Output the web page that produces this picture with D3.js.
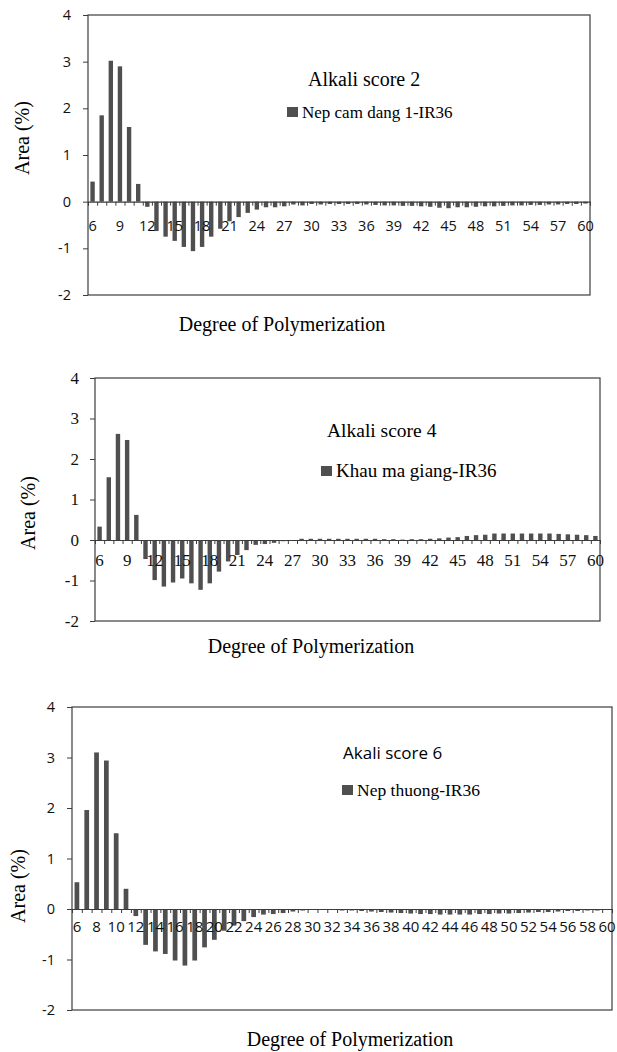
<!DOCTYPE html>
<meta charset="utf-8">
<title>Degree of Polymerization - area difference</title>
<style type="text/css">
  body { margin: 0; background: #fff; }
</style>
<body>
<script src="https://d3js.org/d3.v7.min.js"></script>
<div id="fig"></div>
<script>
// degree of polymerization (x categories)
var dp = [6, 7, 8, 9, 10, 11, 12, 13, 14, 15, 16, 17, 18, 19, 20, 21, 22, 23, 24, 25,
          26, 27, 28, 29, 30, 31, 32, 33, 34, 35, 36, 37, 38, 39, 40, 41, 42, 43, 44, 45,
          46, 47, 48, 49, 50, 51, 52, 53, 54, 55, 56, 57, 58, 59, 60];

// tick labels shown on the x axis
var ticksEvery3 = [6, 9, 12, 15, 18, 21, 24, 27, 30, 33, 36, 39, 42, 45, 48, 51, 54, 57, 60];
var ticksEvery2 = [6, 8, 10, 12, 14, 16, 18, 20, 22, 24, 26, 28, 30, 32, 34, 36, 38, 40, 42, 44,
                   46, 48, 50, 52, 54, 56, 58, 60];
var yTicks = [-2, -1, 0, 1, 2, 3, 4];

// Alkali score 2 : Nep cam dang 1 - IR36
var nepCamDang = [0.43, 1.85, 3.02, 2.9, 1.6, 0.38, -0.11, -0.63, -0.75, -0.84,
                  -0.97, -1.06, -0.97, -0.75, -0.58, -0.42, -0.33, -0.24, -0.17, -0.12,
                  -0.12, -0.1, -0.06, -0.08, -0.05, -0.06, -0.05, -0.05, -0.05, -0.05,
                  -0.06, -0.07, -0.08, -0.08, -0.09, -0.09, -0.1, -0.11, -0.13, -0.14,
                  -0.12, -0.12, -0.11, -0.1, -0.1, -0.09, -0.08, -0.08, -0.07, -0.07,
                  -0.06, -0.06, -0.05, -0.05, -0.04];

// Alkali score 4 : Khau ma giang - IR36
var khauMaGiang = [0.33, 1.55, 2.62, 2.47, 0.62, -0.47, -0.99, -1.15, -1.05, -0.95,
                   -1.07, -1.23, -1.07, -0.78, -0.53, -0.37, -0.25, -0.12, -0.1, -0.07,
                   -0.03, -0.02, 0.03, 0.03, 0.03, 0.03, 0.03, 0.03, 0.03, 0.03,
                   0.03, 0.02, 0.02, 0.01, 0.02, 0.02, 0.03, 0.04, 0.06, 0.07,
                   0.1, 0.12, 0.13, 0.16, 0.16, 0.16, 0.16, 0.16, 0.16, 0.16,
                   0.15, 0.14, 0.13, 0.12, 0.1];

// Akali score 6 : Nep thuong - IR36
var nepThuong = [0.53, 1.96, 3.1, 2.94, 1.5, 0.4, -0.14, -0.71, -0.84, -0.89,
                 -1.02, -1.12, -1.02, -0.76, -0.61, -0.43, -0.33, -0.24, -0.16, -0.11,
                 -0.1, -0.08, -0.05, -0.03, -0.02, -0.02, -0.02, -0.03, -0.03, -0.04,
                 -0.05, -0.06, -0.07, -0.08, -0.09, -0.1, -0.1, -0.11, -0.11, -0.11,
                 -0.11, -0.1, -0.1, -0.09, -0.09, -0.08, -0.07, -0.06, -0.06, -0.05,
                 -0.04, -0.04, -0.03, -0.03, -0.02];

var barColor = "#4f4f4f";
var lineColor = "#3c3c3c";
var SERIF = '"Liberation Serif", "Times New Roman", serif';
var SANS = '"Open Sans", "DejaVu Sans", sans-serif';

var svg = d3.select("#fig")
  .append("svg")
    .attr("width", 617)
    .attr("height", 1052);

// one panel = one bar chart
function drawPanel(p) {
  var g = svg.append("g")
    .attr("transform", "translate(" + p.left + "," + p.top + ")");
  var width = p.right - p.left,
      height = p.bottom - p.top;

  var x = d3.scaleBand()
    .domain(dp)
    .range([0, width])
    .paddingInner(0.52)
    .paddingOuter(0.26);
  // category boundaries for the tick marks
  var xb = d3.scaleLinear()
    .domain([5.5, 60.5])
    .range([0, width]);
  var y = d3.scaleLinear()
    .domain([-2, 4])
    .range([height, 0]);

  // frame of the plot area
  g.append("rect")
    .attr("width", width)
    .attr("height", height)
    .attr("fill", "none")
    .attr("stroke", lineColor)
    .attr("stroke-width", 1.2);

  // bars
  g.selectAll("rect.bar")
    .data(p.values)
    .enter()
    .append("rect")
      .attr("class", "bar")
      .attr("x", function(d, i) { return x(dp[i]); })
      .attr("y", function(d) { return y(Math.max(0, d)); })
      .attr("width", x.bandwidth())
      .attr("height", function(d) { return Math.abs(y(d) - y(0)); })
      .attr("fill", barColor);

  // y axis
  var yAxis = g.append("g")
    .call(d3.axisLeft(y).tickValues(yTicks).tickSize(5).tickSizeOuter(0)
      .tickPadding(p.yPad).tickFormat(function(d) { return String(d); }));
  yAxis.select(".domain").remove();
  yAxis.selectAll("line").attr("stroke", lineColor);
  yAxis.selectAll("text")
    .attr("fill", "#111")
    .style("font-family", p.tickFont)
    .style("font-size", p.yFontSize + "px");

  // x axis : tick marks at category boundaries, below the zero line
  var xTickAxis = g.append("g")
    .attr("transform", "translate(0," + y(0) + ")")
    .call(d3.axisBottom(xb).tickValues(d3.range(5.5, 61, 1)).tickSize(4).tickSizeOuter(0).tickFormat(""));
  xTickAxis.select(".domain").attr("stroke", lineColor).attr("stroke-width", 1.2);
  xTickAxis.selectAll("line").attr("stroke", lineColor);

  var xAxis = g.append("g")
    .attr("transform", "translate(0," + y(0) + ")")
    .call(d3.axisBottom(x).tickValues(p.xTicks).tickSize(0).tickPadding(p.xPad));
  xAxis.select(".domain").remove();
  xAxis.selectAll("text")
    .attr("fill", "#111")
    .style("font-family", p.tickFont)
    .style("font-size", p.xFontSize + "px");

  // title inside the plot
  svg.append("text")
    .attr("x", p.titleX)
    .attr("y", p.titleY)
    .style("font-family", p.titleFont)
    .style("font-size", p.titleSize + "px")
    .text(p.title);

  // legend
  svg.append("rect")
    .attr("x", p.legX)
    .attr("y", p.legY - 11)
    .attr("width", 11)
    .attr("height", 10)
    .attr("fill", barColor);
  svg.append("text")
    .attr("x", p.legX + 15)
    .attr("y", p.legY)
    .style("font-family", SERIF)
    .style("font-size", p.legSize + "px")
    .text(p.series);

  // axis titles
  svg.append("text")
    .attr("transform", "translate(" + p.yTitleX + "," + p.yTitleY + ") rotate(-90)")
    .attr("text-anchor", "middle")
    .attr("dy", "0.35em")
    .style("font-family", SERIF)
    .style("font-size", "20px")
    .text("Area (%)");
  svg.append("text")
    .attr("x", p.xTitleX)
    .attr("y", p.xTitleY)
    .attr("text-anchor", "middle")
    .style("font-family", SERIF)
    .style("font-size", "20px")
    .text("Degree of Polymerization");
}

drawPanel({
  left: 88, right: 590, top: 15, bottom: 295,
  values: nepCamDang, xTicks: ticksEvery3,
  tickFont: SANS, yFontSize: 14.5, xFontSize: 14.5, yPad: 12, xPad: 19,
  title: "Alkali score 2", titleFont: SERIF, titleSize: 20, titleX: 308, titleY: 86,
  series: "Nep cam dang 1-IR36", legX: 287, legY: 118, legSize: 17,
  yTitleX: 22, yTitleY: 138, xTitleX: 282, xTitleY: 331
});

drawPanel({
  left: 95, right: 600, top: 378, bottom: 621,
  values: khauMaGiang, xTicks: ticksEvery3,
  tickFont: SERIF, yFontSize: 17, xFontSize: 17, yPad: 11, xPad: 14,
  title: "Alkali score 4", titleFont: SERIF, titleSize: 19.5, titleX: 327, titleY: 437,
  series: "Khau ma giang-IR36", legX: 321, legY: 477, legSize: 19,
  yTitleX: 28, yTitleY: 513, xTitleX: 311, xTitleY: 653
});

drawPanel({
  left: 72, right: 612, top: 707, bottom: 1010,
  values: nepThuong, xTicks: ticksEvery2,
  tickFont: SANS, yFontSize: 14.5, xFontSize: 15, yPad: 12, xPad: 12,
  title: "Akali score 6", titleFont: SANS, titleSize: 17, titleX: 343, titleY: 759,
  series: "Nep thuong-IR36", legX: 342, legY: 796, legSize: 17.5,
  yTitleX: 18, yTitleY: 886, xTitleX: 350, xTitleY: 1046
});
</script>
</body>
